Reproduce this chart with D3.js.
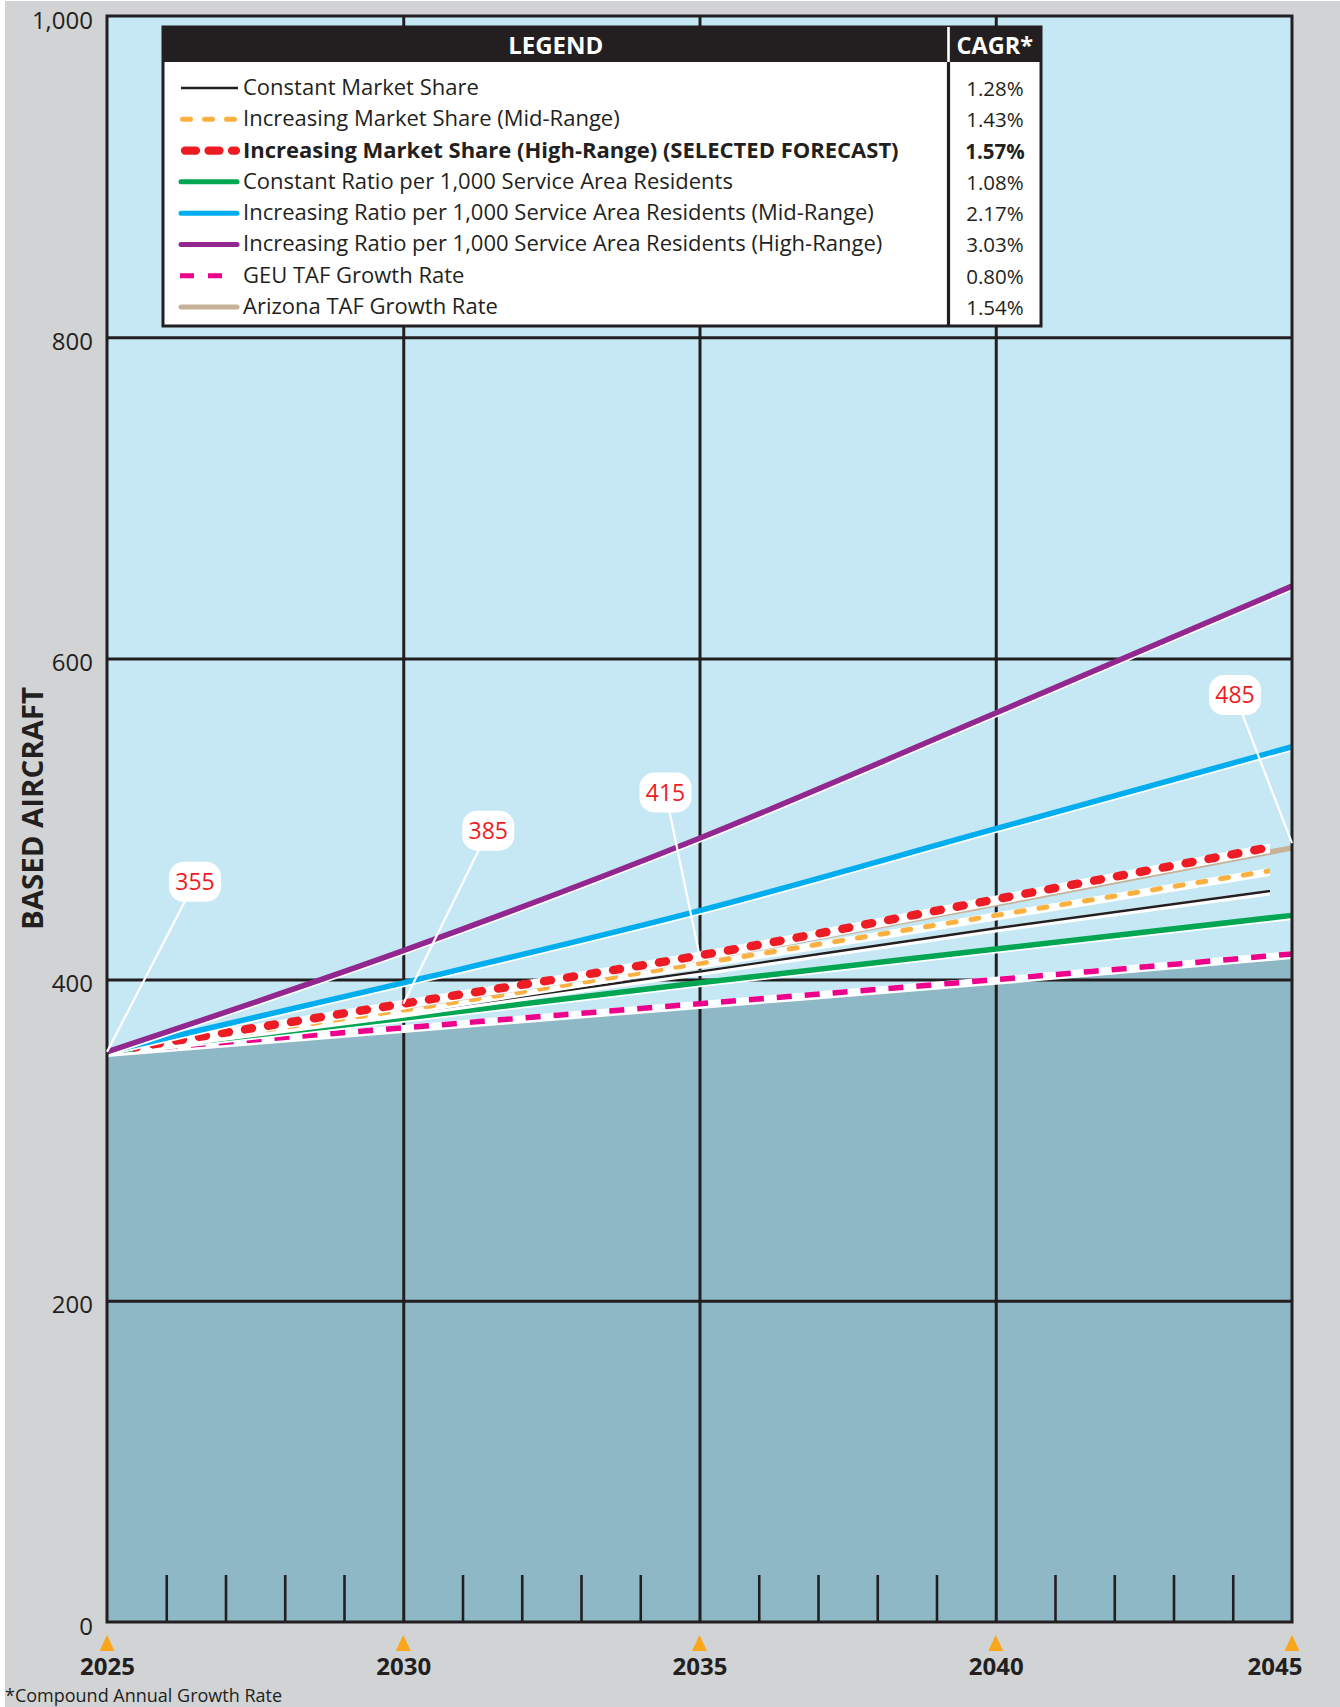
<!DOCTYPE html>
<html>
<head>
<meta charset="utf-8">
<script src="https://cdn.jsdelivr.net/npm/d3@7"></script>
<style>
  html, body { margin: 0; padding: 0; background: #ffffff; }
  svg { display: block; font-family: "Open Sans", "Noto Sans", sans-serif; }
</style>
</head>
<body>
<svg id="chart" width="1340" height="1707"></svg>
<script>
// ---- Based aircraft forecast data (5-year points) ----
const years = [2025, 2030, 2035, 2040, 2045];
const constantMarketShare       = [355, 379, 405, 432, 457];
const increasingMarketShareMid  = [355, 381, 410, 440, 470];
const increasingMarketShareHigh = [355, 385, 415, 450, 485];
const constantRatio             = [355, 376, 398, 419, 440];
const increasingRatioMid        = [355, 398, 443, 494, 545];
const increasingRatioHigh       = [355, 418, 488, 566, 645];
const geuTafGrowth              = [355, 370, 385, 400, 416];
const arizonaTafGrowth          = [355, 383, 413, 447, 482];

const seriesLabels = [
  "Constant Market Share",
  "Increasing Market Share (Mid-Range)",
  "Increasing Market Share (High-Range) (SELECTED FORECAST)",
  "Constant Ratio per 1,000 Service Area Residents",
  "Increasing Ratio per 1,000 Service Area Residents (Mid-Range)",
  "Increasing Ratio per 1,000 Service Area Residents (High-Range)",
  "GEU TAF Growth Rate",
  "Arizona TAF Growth Rate"
];
const cagrLabels = ["1.28%", "1.43%", "1.57%", "1.08%", "2.17%", "3.03%", "0.80%", "1.54%"];
const yTickValues = [0, 200, 400, 600, 800, 1000];
const xTickValues = [2025, 2030, 2035, 2040, 2045];
const calloutYears = [2025, 2030, 2035, 2045];

// ---- Presentation ----
const seriesValues = [
  constantMarketShare, increasingMarketShareMid, increasingMarketShareHigh, constantRatio,
  increasingRatioMid, increasingRatioHigh, geuTafGrowth, arizonaTafGrowth
];
const seriesStyle = [
  { color: "#231f20", width: 2.4, halo: 5.5, haloShift: 1.6, trim: true },
  { color: "#fbb040", width: 5,   halo: 8,   haloShift: 1.2, dash: "8 15", cap: "round", trim: true },
  { color: "#ed1c24", width: 8.5, halo: 9.5, haloShift: 1.0, dash: "7 16.3", cap: "round", trim: true },
  { color: "#00a651", width: 5.5, halo: 5.5, haloShift: 1.8 },
  { color: "#00aeef", width: 5.5, halo: 5.5, haloShift: 1.8 },
  { color: "#92278f", width: 5.5, halo: 5.5, haloShift: 1.8 },
  { color: "#ec008c", width: 5.5, halo: 8,   haloShift: 1.2, dash: "15 13", cap: "butt" },
  { color: "#c7b299", width: 5.5, halo: 0,   haloShift: 0 }
];
const drawOrder = [6, 3, 0, 1, 7, 2, 4, 5];
const calloutOffsets = [[88, -170], [85, -173], [-34, -163], [-57, -148]];

const W = 1340, H = 1707;
const plot = { left: 107, right: 1292, top: 16, bottom: 1622 };
const ink = "#231f20";

const svg = d3.select("#chart");
svg.append("rect").attr("x", 5).attr("y", 1).attr("width", W - 5).attr("height", H - 1).attr("fill", "#d1d3d4");

const x = d3.scaleLinear().domain([2025, 2045]).range([plot.left, plot.right]);
const y = d3.scaleLinear().domain([0, 1000]).range([plot.bottom, plot.top]);

// plot background
svg.append("rect")
  .attr("x", plot.left).attr("y", plot.top)
  .attr("width", plot.right - plot.left).attr("height", plot.bottom - plot.top)
  .attr("fill", "#c5e8f4");

// shaded band under the GEU TAF trend
const area = d3.area().x((d, i) => x(years[i])).y0(y(0)).y1(d => y(d) + 2);
svg.append("path").datum(geuTafGrowth).attr("d", area).attr("fill", "#8fb8c6");

// gridlines
const gridY = svg.append("g").attr("transform", `translate(${plot.left},0)`)
  .call(d3.axisLeft(y).tickValues([200, 400, 600, 800]).tickSize(-(plot.right - plot.left)).tickFormat(""));
const gridX = svg.append("g").attr("transform", `translate(0,${plot.bottom})`)
  .call(d3.axisBottom(x).tickValues([2030, 2035, 2040]).tickSize(-(plot.bottom - plot.top)).tickFormat(""));
[gridY, gridX].forEach(g => {
  g.select(".domain").remove();
  g.selectAll("line").attr("stroke", ink).attr("stroke-width", 3);
});

// yearly minor ticks along the base
const minorYears = d3.range(2026, 2045).filter(yr => yr % 5 !== 0);
const minor = svg.append("g").attr("transform", `translate(0,${plot.bottom})`)
  .call(d3.axisBottom(x).tickValues(minorYears).tickSize(-47).tickFormat(""));
minor.select(".domain").remove();
minor.selectAll("line").attr("stroke", ink).attr("stroke-width", 2.6);

// series lines
const line = d3.line().x((d, i) => x(years[i])).y(d => y(d)).curve(d3.curveMonotoneX);
const defs = svg.append("defs");
defs.append("clipPath").attr("id", "trimClip").append("rect")
  .attr("x", x(2025) + 26).attr("y", 0)
  .attr("width", (x(2045) - 22) - (x(2025) + 26)).attr("height", H);
const linesG = svg.append("g");
drawOrder.forEach(i => {
  const s = seriesStyle[i];
  const g = linesG.append("g");
  if (s.trim) g.attr("clip-path", "url(#trimClip)");
  if (s.halo > 0) {
    g.append("path").datum(seriesValues[i]).attr("d", line)
      .attr("transform", `translate(0,${s.haloShift})`)
      .attr("fill", "none").attr("stroke", "#ffffff").attr("stroke-width", s.halo)
      .attr("stroke-linecap", "butt");
  }
  g.append("path").datum(seriesValues[i]).attr("d", line)
    .attr("fill", "none").attr("stroke", s.color).attr("stroke-width", s.width)
    .attr("stroke-dasharray", s.dash || null)
    .attr("stroke-linecap", s.cap || "butt");
});

// plot frame
svg.append("rect")
  .attr("x", plot.left).attr("y", plot.top)
  .attr("width", plot.right - plot.left).attr("height", plot.bottom - plot.top)
  .attr("fill", "none").attr("stroke", ink).attr("stroke-width", 3);

// y axis labels
const yAxis = svg.append("g").attr("transform", `translate(${plot.left},0)`)
  .call(d3.axisLeft(y).tickValues(yTickValues).tickSize(0).tickPadding(14).tickFormat(d3.format(",")));
yAxis.select(".domain").remove();
yAxis.selectAll("text")
  .attr("font-family", "'Open Sans', sans-serif").attr("font-size", 24)
  .attr("fill", ink).attr("dy", "0.5em");

// y axis title
svg.append("text")
  .attr("transform", `translate(33,${(687 + 930) / 2}) rotate(-90)`)
  .attr("text-anchor", "middle").attr("dy", "0.36em")
  .attr("font-size", 29).attr("font-weight", 700).attr("fill", ink)
  .attr("textLength", 243).attr("lengthAdjust", "spacingAndGlyphs")
  .text("BASED AIRCRAFT");

// x axis markers and labels
svg.append("g").selectAll("path").data(xTickValues).join("path")
  .attr("d", d => `M${x(d)},1635 L${x(d) + 7.5},1651 L${x(d) - 7.5},1651 Z`)
  .attr("fill", "#faa61a");
const xAxis = svg.append("g").attr("transform", `translate(0,${plot.bottom})`)
  .call(d3.axisBottom(x).tickValues(xTickValues).tickSize(0).tickPadding(0).tickFormat(d3.format("d")));
xAxis.select(".domain").remove();
xAxis.selectAll("text")
  .attr("font-family", "'Open Sans', sans-serif").attr("font-size", 24).attr("font-weight", 700)
  .attr("fill", ink).attr("y", 53).attr("dy", 0);
xAxis.selectAll(".tick").filter(d => d === 2045).select("text")
  .attr("text-anchor", "end").attr("x", 10);

// footnote
svg.append("text").attr("x", 5).attr("y", 1701.5)
  .attr("font-size", 18).attr("fill", ink).text("*Compound Annual Growth Rate");

// ---- legend ----
const L = { x: 163, y: 27, w: 878, h: 299, head: 35, div: 948.5 };
const lg = svg.append("g");
lg.append("rect").attr("x", L.x).attr("y", L.y).attr("width", L.w).attr("height", L.h)
  .attr("fill", "#ffffff").attr("stroke", ink).attr("stroke-width", 3);
lg.append("rect").attr("x", L.x).attr("y", L.y).attr("width", L.w).attr("height", L.head).attr("fill", ink);
lg.append("line").attr("x1", L.div).attr("x2", L.div).attr("y1", L.y).attr("y2", L.y + L.head)
  .attr("stroke", "#ffffff").attr("stroke-width", 2.6);
lg.append("line").attr("x1", L.div).attr("x2", L.div).attr("y1", L.y + L.head).attr("y2", L.y + L.h)
  .attr("stroke", ink).attr("stroke-width", 3.2);
lg.append("text").attr("x", (L.x + L.div) / 2).attr("y", 54).attr("text-anchor", "middle")
  .attr("fill", "#ffffff").attr("font-size", 24).attr("font-weight", 700).text("LEGEND");
lg.append("text").attr("x", (L.div + L.x + L.w) / 2).attr("y", 54).attr("text-anchor", "middle")
  .attr("fill", "#ffffff").attr("font-size", 23.5).attr("font-weight", 700).text("CAGR*");

const rowY = d3.scaleLinear().domain([0, 7]).range([95, 314]);
const swatch = [
  { x1: 181, x2: 238 },
  { x1: 182.5, x2: 237 },
  { x1: 185, x2: 236 },
  { x1: 181, x2: 237 },
  { x1: 181, x2: 237 },
  { x1: 181, x2: 237 },
  { x1: 180, x2: 223 },
  { x1: 181, x2: 237 }
];
const legendDash = [null, "8 14", "11 12.5", null, null, null, "14 14", null];
const legendCap = ["butt", "round", "round", "round", "round", "round", "butt", "round"];
seriesLabels.forEach((label, i) => {
  const s = seriesStyle[i];
  const cy = rowY(i);
  lg.append("line").attr("x1", swatch[i].x1).attr("x2", swatch[i].x2)
    .attr("y1", cy - 7).attr("y2", cy - 7)
    .attr("stroke", s.color).attr("stroke-width", i === 0 ? 2.4 : (i === 2 ? 8.3 : 5))
    .attr("stroke-dasharray", legendDash[i]).attr("stroke-linecap", legendCap[i]);
  lg.append("text").attr("x", 243).attr("y", cy)
    .attr("font-size", 22).attr("font-weight", i === 2 ? 700 : 400).attr("fill", ink)
    .text(label);
  lg.append("text").attr("x", 995).attr("y", cy + 1).attr("text-anchor", "middle")
    .attr("font-size", 20.5).attr("font-weight", i === 2 ? 700 : 400).attr("fill", ink)
    .text(cagrLabels[i]);
});

// ---- selected forecast callouts ----
const callG = svg.append("g");
calloutYears.forEach((yr, k) => {
  const v = increasingMarketShareHigh[years.indexOf(yr)];
  const px = x(yr), py = y(v);
  const cx = px + calloutOffsets[k][0], cy = py + calloutOffsets[k][1];
  callG.append("line").attr("x1", px).attr("y1", py).attr("x2", cx).attr("y2", cy)
    .attr("stroke", "#ffffff").attr("stroke-width", 2.2);
  callG.append("rect").attr("x", cx - 26).attr("y", cy - 20).attr("width", 52).attr("height", 40)
    .attr("rx", 15).attr("ry", 15).attr("fill", "#ffffff");
  callG.append("text").attr("x", cx).attr("y", cy).attr("dy", "0.36em").attr("text-anchor", "middle")
    .attr("font-size", 23).attr("fill", "#ed1c24").text(d3.format("d")(v));
});
</script>
</body>
</html>
